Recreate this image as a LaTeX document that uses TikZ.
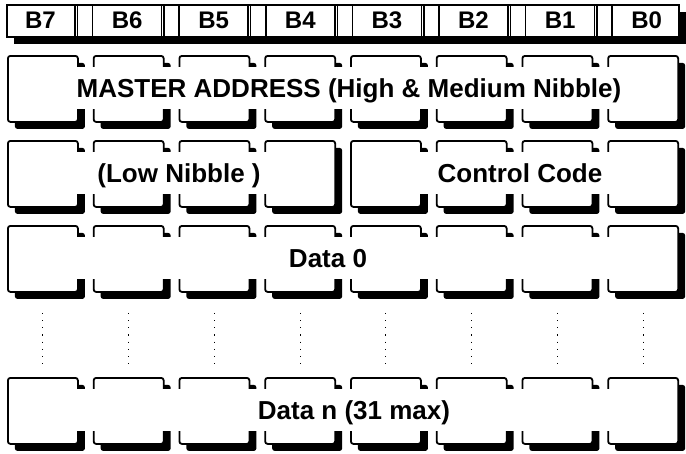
\documentclass[tikz,border=0pt]{standalone}
\usepackage{fontspec}
\setmainfont{Liberation Sans}
\usetikzlibrary{shadows}
\begin{document}
\begin{tikzpicture}[x=1pt,y=-1pt,
  blackshadow/.style={drop shadow={shadow xshift=7pt, shadow yshift=-7pt, fill=black, opacity=1}},
  cellbox/.style={draw=black, line width=1.8pt, fill=white, rounded corners=2.5pt,
    minimum width=70pt, minimum height=66pt, anchor=north west, inner sep=0pt, blackshadow},
  barbox/.style={draw=black, line width=1.8pt, fill=white,
    minimum width=672pt, minimum height=32pt, anchor=north west, inner sep=0pt, blackshadow},
  sepline/.style={line width=1.5pt},
  lbl/.style={font=\fontsize{26}{26}\selectfont\bfseries, inner sep=0pt, anchor=base},
  blbl/.style={font=\fontsize{24}{24}\selectfont\bfseries, inner sep=0pt, anchor=base},
  band/.style={fill=white},
  dots/.style={line width=0.9pt, dash pattern=on 1.2pt off 6pt}
]
\useasboundingbox (0,0) rectangle (686,453);

% top bit bar
\node[barbox] (bar) at (6,4) {};
\foreach \i in {0,...,6} {
  \pgfmathsetmacro\Ra{6+\i*86.6+69}
  \pgfmathsetmacro\Rb{6+\i*86.6+71.5}
  \pgfmathsetmacro\Lb{6+(\i+1)*86.6}
  \draw[sepline] (\Ra,4) -- (\Ra,36);
  \draw[sepline] (\Rb,4) -- (\Rb,36);
  \draw[sepline] (\Lb,4) -- (\Lb,36);
}
\foreach \i in {0,...,7} {
  \pgfmathtruncatemacro\n{7-\i}
  \pgfmathsetmacro\cx{6+\i*86.6+34.5}
  \node[blbl] (b\i) at (\cx,28.5) {B\n};
}

% byte rows
\foreach \r/\T in {1/55,2/140,3/225,4/377} {
  \foreach \i in {0,...,7} {
    \pgfmathsetmacro\xa{7+\i*85.75}
    \node[cellbox] (c\r\i) at (\xa,\T) {};
  }
}

% merge groups of cells
\foreach \r/\a/\b in {1/0/7, 2/0/3, 2/4/7, 3/0/7, 4/0/7}
  \fill[band] ([xshift=2.2pt,yshift=-12pt]c\r\a.north west) rectangle ([xshift=-2.2pt,yshift=14pt]c\r\b.south east);

% dotted continuation
\foreach \i in {0,...,7}
  \draw[dots] ([yshift=-20pt]c3\i.south) -- ([yshift=10pt]c4\i.north);

% texts
\node[lbl] (t1) at (349,97) {MASTER ADDRESS (High \& Medium Nibble)};
\node[lbl] (t2a) at (179,182) {(Low Nibble )};
\node[lbl] (t2b) at (520,182) {Control Code};
\node[lbl] (t3) at (328,267) {Data 0};
\node[lbl] (t4) at (354,419) {Data n (31 max)};
\end{tikzpicture}
\end{document}
